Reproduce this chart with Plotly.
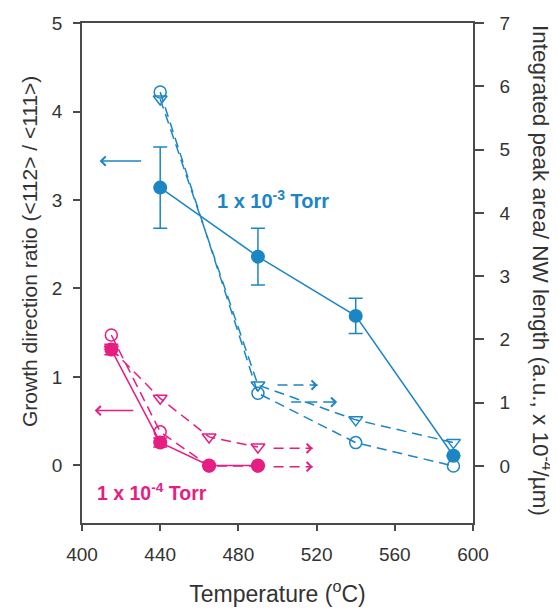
import plotly.graph_objects as go

# ---- data ----
blue_x = [440, 490, 540, 590]
blue_ratio = [3.14, 2.36, 1.69, 0.11]
blue_ratio_err = [0.46, 0.32, 0.20, 0.0]
blue_area_circle = [5.91, 1.15, 0.37, 0.0]
blue_area_tri = [5.80, 1.28, 0.73, 0.37]

pink_x = [415, 440, 465, 490]
pink_ratio = [1.31, 0.26, 0.0, 0.0]
pink_ratio_err = [0.06, 0.05, 0.0, 0.0]
pink_area_circle = [2.07, 0.54, 0.0, 0.0]
pink_area_tri = [1.85, 1.07, 0.46, 0.30]

x_ticks = [400, 440, 480, 520, 560, 600]
y_left_ticks = [0, 1, 2, 3, 4, 5]
y_right_ticks = [0, 1, 2, 3, 4, 5, 6, 7]

# arrows: (x_tail, x_tip, y)
blue_solid_arrow = (431, 409, 3.44)
pink_solid_arrow = (427, 406.5, 0.62)
blue_dashed_arrows = [(500, 520.5, 1.28), (507, 530.5, 1.01)]
pink_dashed_arrows = [(498, 518, 0.28), (498, 518, -0.01)]

BLUE = "#1c85c4"
PINK = "#e61e82"
FONT = "Arial, Liberation Sans, sans-serif"
TXT = "#333333"
LINE = "#4a4a4a"

fig = go.Figure()

dash = "10px,6px"

# dashed (right axis) series
for xs, ys, sym, col in [
    (blue_x, blue_area_circle, "circle-open", BLUE),
    (blue_x, blue_area_tri, "triangle-down-open", BLUE),
    (pink_x, pink_area_circle, "circle-open", PINK),
    (pink_x, pink_area_tri, "triangle-down-open", PINK),
]:
    fig.add_trace(go.Scatter(
        x=xs, y=ys, yaxis="y2", mode="lines+markers",
        line=dict(color=col, width=1.5, dash=dash),
        marker=dict(symbol=sym, size=12, color=col, line=dict(width=1.5, color=col)),
        showlegend=False, hoverinfo="x+y"))

# solid (left axis) series
for xs, ys, err, col in [
    (blue_x, blue_ratio, blue_ratio_err, BLUE),
    (pink_x, pink_ratio, pink_ratio_err, PINK),
]:
    fig.add_trace(go.Scatter(
        x=xs, y=ys, mode="lines+markers",
        line=dict(color=col, width=1.5),
        marker=dict(symbol="circle", size=14, color=col),
        error_y=dict(type="data", array=err, visible=True, color=col,
                     thickness=1.5, width=7),
        showlegend=False, hoverinfo="x+y"))

# dashed arrow shafts
for arrows, col in [(blue_dashed_arrows, BLUE), (pink_dashed_arrows, PINK)]:
    for x0, x1, y in arrows:
        fig.add_trace(go.Scatter(
            x=[x0, x1], y=[y, y], yaxis="y2", mode="lines",
            line=dict(color=col, width=1.5, dash=dash),
            showlegend=False, hoverinfo="skip"))
        fig.add_annotation(x=x1, y=y, xref="x", yref="y2", text="",
                           showarrow=True, ax=-6, ay=0, arrowhead=4,
                           arrowsize=1.2, arrowwidth=1.5, arrowcolor=col)

# solid arrows
for (x0, x1, y), col in [(blue_solid_arrow, BLUE), (pink_solid_arrow, PINK)]:
    fig.add_annotation(x=x1, y=y, xref="x", yref="y", ax=x0, ay=y,
                       axref="x", ayref="y", text="", showarrow=True,
                       arrowhead=4, arrowsize=1.2, arrowwidth=1.5, arrowcolor=col)

# labels
fig.add_annotation(x=468, y=3.0, xref="x", yref="y", xanchor="left", yanchor="middle",
                   text="<b>1 x 10<sup>-3</sup> Torr</b>", showarrow=False,
                   font=dict(family=FONT, size=20, color=BLUE))
fig.add_annotation(x=406.5, y=-0.3, xref="x", yref="y", xanchor="left", yanchor="middle",
                   text="<b>1 x 10<sup>-4</sup> Torr</b>", showarrow=False,
                   font=dict(family=FONT, size=19.5, color=PINK))

# left axis title
fig.add_annotation(x=0, y=0.542, xref="paper", yref="paper", xanchor="center",
                   yanchor="middle", xshift=-52, textangle=-90, showarrow=False,
                   text="Growth direction ratio (&lt;112&gt; / &lt;111&gt;)",
                   font=dict(family=FONT, size=21, color=TXT))

# right axis title (reads top to bottom)
fig.add_annotation(x=1, y=0.5, xref="paper", yref="paper", xanchor="center",
                   yanchor="middle", xshift=69, yshift=3, textangle=90, showarrow=False,
                   text="Integrated peak area/ NW length (a.u., x 10<sup>-4</sup>/µm)",
                   font=dict(family=FONT, size=22.5, color=TXT))

axis_common = dict(showline=True, linecolor=LINE, linewidth=1.5, ticks="outside",
                   tickcolor=LINE, tickwidth=1.5, showgrid=False, zeroline=False,
                   automargin=False,
                   tickfont=dict(family=FONT, size=19, color=TXT))

# the page body adds an 8px offset; margins compensate so the plot area
# sits at x 82..473, y 23..523 in the window
fig.update_layout(
    width=558, height=609,
    margin=dict(l=74, r=93, t=15, b=94),
    plot_bgcolor="white", paper_bgcolor="white",
    xaxis=dict(range=[400, 600], tickvals=x_ticks, ticklen=6, mirror=True,
               ticklabelstandoff=7,
               title=dict(text="Temperature (<sup>o</sup>C)", standoff=22,
                          font=dict(family=FONT, size=23, color=TXT)),
               **axis_common),
    yaxis=dict(range=[-0.65, 5], tickvals=y_left_ticks, ticklen=7,
               ticklabelstandoff=7, **axis_common),
    yaxis2=dict(range=[-0.9, 7], tickvals=y_right_ticks, ticklen=9, side="right",
                overlaying="y", ticklabelstandoff=12, **axis_common),
)

fig.write_html("out.html")
